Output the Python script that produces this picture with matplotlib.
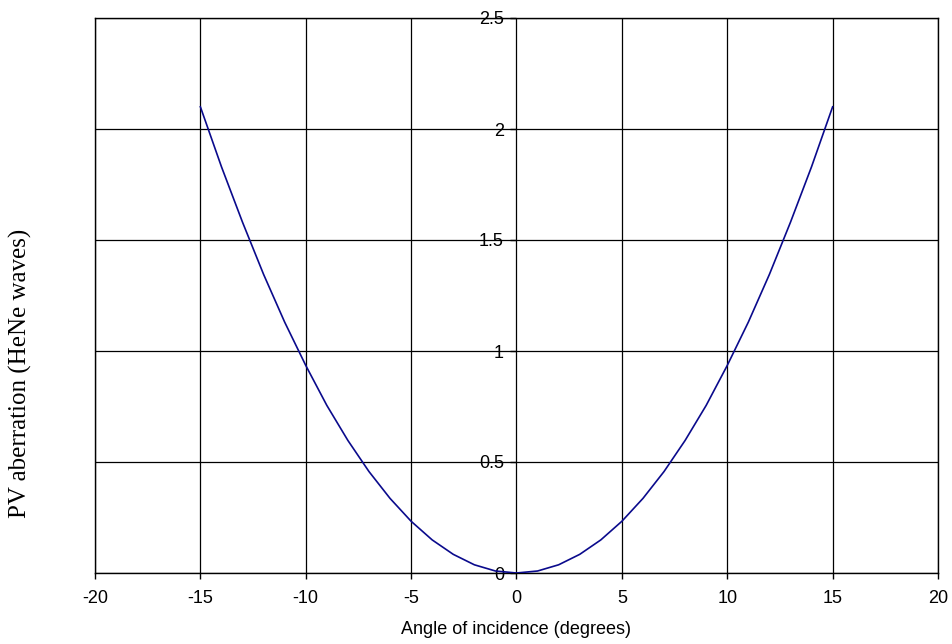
import matplotlib
matplotlib.use("Agg")
import matplotlib.pyplot as plt

angles = [-15, -14, -13, -12, -11, -10, -9, -8, -7, -6, -5, -4, -3, -2, -1,
          0, 1, 2, 3, 4, 5, 6, 7, 8, 9, 10, 11, 12, 13, 14, 15]
pv = [2.10, 1.83, 1.58, 1.345, 1.13, 0.935, 0.755, 0.597, 0.457, 0.336, 0.233, 0.149, 0.084, 0.037, 0.009,
      0.0, 0.009, 0.037, 0.084, 0.149, 0.233, 0.336, 0.457, 0.597, 0.755, 0.935, 1.13, 1.345, 1.58, 1.83, 2.10]
xticks = [-20, -15, -10, -5, 0, 5, 10, 15, 20]
yticks = [0, 0.5, 1, 1.5, 2, 2.5]
ytick_labels = ["0", "0.5", "1", "1.5", "2", "2.5"]

fig = plt.figure(figsize=(9.53, 6.44), dpi=100)
ax = fig.add_axes([95/953, 1-573/644, (938-95)/953, (573-18)/644])

ax.plot(angles, pv, color="#0a0a8c", lw=1.2, zorder=3)
ax.set_xlim(-20, 20)
ax.set_ylim(0, 2.5)
ax.set_xticks(xticks)
ax.set_xticklabels([str(t) for t in xticks], fontsize=13, family="Liberation Sans")
ax.set_yticks(yticks)
ax.tick_params(axis="y", left=False, labelleft=False)
ax.tick_params(axis="x", direction="out", length=4, width=1, pad=8, color="black")
ax.grid(True, color="black", lw=0.9)
for s in ax.spines.values():
    s.set_color("black")
    s.set_linewidth(1.0)

sec = ax.secondary_yaxis(0.5)
sec.set_yticks(yticks)
sec.set_yticklabels(ytick_labels, fontsize=13, family="Liberation Sans")
sec.yaxis.set_ticks_position("left")
sec.tick_params(axis="y", direction="out", length=4, width=1, pad=5,
                left=True, labelleft=True, right=False, labelright=False)
for name, s in sec.spines.items():
    s.set_visible(False)

ax.set_xlabel("Angle of incidence (degrees)", fontsize=13, family="Liberation Sans", labelpad=10)
fig.text(20/953, 1-373/644, "PV aberration (HeNe waves)", rotation=90, fontsize=18,
         family="Liberation Serif", ha="center", va="center")

fig.savefig("out.png", dpi=100, facecolor="white")
